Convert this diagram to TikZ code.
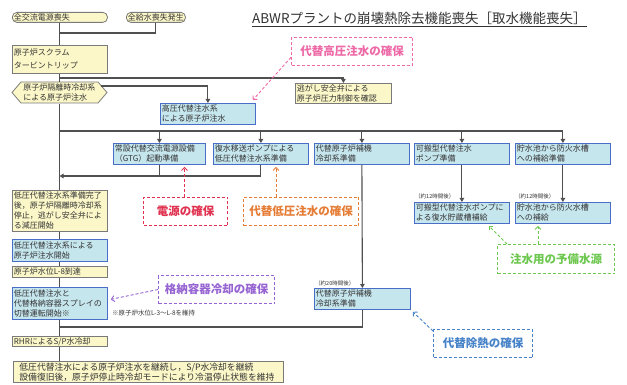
\documentclass[tikz,border=0pt]{standalone}
\usepackage{fontspec}
\setmainfont{Noto Sans CJK JP}
\usetikzlibrary{arrows.meta,calc}
\definecolor{yfill}{HTML}{FBF7C8}
\definecolor{ygray}{HTML}{7A7A7A}
\definecolor{bfill}{HTML}{C6E6EE}
\definecolor{bblue}{HTML}{4A6EC8}
\definecolor{txt}{HTML}{333333}
\definecolor{wirec}{HTML}{505050}
\definecolor{pinkc}{HTML}{EE6AA7}
\definecolor{redc}{HTML}{E03250}
\definecolor{orangec}{HTML}{E67D37}
\definecolor{greenc}{HTML}{6EC850}
\definecolor{purplec}{HTML}{9664D2}
\definecolor{bluec}{HTML}{4682C8}
\tikzset{
  base/.style={anchor=north west, inner xsep=1.5pt, inner ysep=0pt, align=left,
    font=\fontsize{8}{10}\selectfont, text=txt, line width=0.8pt},
  ybox/.style={base, draw=ygray, fill=yfill},
  bbox/.style={base, draw=bblue, fill=bfill},
  wire/.style={draw=wirec, line width=1.1pt},
  arr/.style={wire, -{Triangle[length=4pt,width=4.5pt]}},
  note/.style={draw=#1, text=#1, dash pattern=on 3pt off 2pt, line width=1pt,
    font=\fontsize{11.5}{12}\selectfont\bfseries, anchor=north west, inner sep=0pt, align=center},
  narr/.style={draw=#1, dash pattern=on 3pt off 2pt, line width=0.9pt,
    -{Straight Barb[length=3pt,width=6pt]}},
  small/.style={font=\fontsize{5.5}{6}\selectfont, text=txt, inner sep=0pt, anchor=west}
}
\newcommand\mybox[7]{\node[#2, minimum width=#5pt, minimum height=#6pt, text width=#5pt-3pt] (#1) at (#3,#4) {#7};}
\newcommand\nbox[7]{\node[note=#2, minimum width=#5pt, minimum height=#6pt] (#1) at (#3,#4) {#7};}
\begin{document}
\begin{tikzpicture}[x=1pt,y=-1pt]
\fill[white] (0,0) rectangle (627,385);
\useasboundingbox (0,0) rectangle (627,385);
% title
\node[font=\fontsize{13.5}{14}\selectfont, text=txt, anchor=base west, inner sep=0pt] (title) at (252,24) {ABWRプラントの崩壊熱除去機能喪失［取水機能喪失］};
\draw[txt, line width=0.8pt] ([yshift=-2.5pt]title.base west) -- ([yshift=-2.5pt]title.base east);
% terminals
\mybox{t1}{ybox, rounded corners=4.5pt}{12}{12}{95}{10}{全交流電源喪失}
\mybox{t2}{ybox, rounded corners=4.5pt}{126}{12}{59}{10}{全給水喪失発生}
% main column
\mybox{scram}{ybox, font=\fontsize{8}{13}\selectfont}{12}{45}{95}{28}{原子炉スクラム\\タービントリップ}
\fill[yfill] (12,92.5) -- (21,82) -- (98,82) -- (107,92.5) -- (98,103) -- (21,103) -- cycle;
\draw[ygray, line width=0.8pt] (12,92.5) -- (21,82) -- (98,82) -- (107,92.5) -- (98,103) -- (21,103) -- cycle;
\node[base, minimum width=95pt, minimum height=21pt, text width=73pt] (hex) at (12,82) {原子炉隔離時冷却系\\による原子炉注水};
\mybox{relief}{ybox}{295}{83}{96}{20}{逃がし安全弁による\\原子炉圧力制御を確認}
\mybox{hp}{bbox}{160}{103}{95}{21}{高圧代替注水系\\による原子炉注水}
\mybox{gtg}{bbox}{113}{143}{92}{21}{常設代替交流電源設備\\（GTG）起動準備}
\mybox{cp}{bbox}{213}{143}{95}{21}{復水移送ポンプによる\\低圧代替注水系準備}
\mybox{arc}{bbox}{314}{143}{95}{21}{代替原子炉補機\\冷却系準備}
\mybox{pump}{bbox}{414}{143}{95}{21}{可搬型代替注水\\ポンプ準備}
\mybox{res}{bbox}{515}{143}{95}{21}{貯水池から防火水槽\\への補給準備}
\mybox{lpready}{ybox}{12}{190}{95}{41}{低圧代替注水系準備完了\\後，原子炉隔離時冷却系\\停止，逃がし安全弁によ\\る減圧開始}
\mybox{pump2}{bbox}{414}{202}{95}{21}{可搬型代替注水ポンプに\\よる復水貯蔵槽補給}
\mybox{res2}{bbox}{515}{202}{95}{21}{貯水池から防火水槽\\への補給}
\mybox{lpinj}{bbox}{12}{239}{95}{22}{低圧代替注水系による\\原子炉注水開始}
\mybox{L8}{ybox}{12}{266}{95}{11}{原子炉水位L-8到達}
\mybox{switch}{bbox}{12}{287}{95}{32}{低圧代替注水と\\代替格納容器スプレイの\\切替運転開始※}
\mybox{arc2}{bbox}{314}{288}{96}{21}{代替原子炉補機\\冷却系準備}
\mybox{rhr}{ybox}{12}{336}{95}{10}{RHRによるS/P水冷却}
\node[ybox, inner xsep=6pt, font=\fontsize{8.8}{10}\selectfont, minimum width=270pt, minimum height=21pt, text width=258pt] (final) at (13,361) {低圧代替注水による原子炉注水を継続し，S/P水冷却を継続\\設備復旧後，原子炉停止時冷却モードにより冷温停止状態を維持};
% small labels
\node[small] (l12a) at (415,196) {（約12時間後）};
\node[small] (l12b) at (515,196) {（約12時間後）};
\node[small] (l20) at (315,283) {（約20時間後）};
\node[small, font=\fontsize{6.5}{7}\selectfont] (memo) at (112,313) {※原子炉水位L-3～L-8を維持};
% trunk
\coordinate (j1) at (59.5,33);
\coordinate (j2) at (59.5,78);
\coordinate (j3) at (59.5,131);
\coordinate (j4) at (59.5,176);
\coordinate (j5) at (59.5,327);
\coordinate (hexout) at (101.4,86);
\draw[wire] (t1.south) -- (scram.north);
\draw[wire] (scram.south) -- (hex.north);
\draw[wire] (hex.south) -- (lpready.north);
\draw[wire] (lpready.south) -- (lpinj.north);
\draw[wire] (lpinj.south) -- (L8.north);
\draw[wire] (L8.south) -- (switch.north);
\draw[wire] (switch.south) -- (rhr.north);
\draw[wire] (rhr.south) -- (rhr.south |- final.north);
\draw[wire] (t2.south) |- (j1);
\draw[arr] (j2) -| (relief.north);
\draw[arr] (hexout) -| (hp.north);
\draw[arr] (j3) -| (gtg.north);
\draw[arr] (j3) -| (cp.north);
\draw[arr] (j3) -| (arc.north);
\draw[arr] (j3) -| (pump.north);
\draw[arr] (j3) -| (res.north);
\draw[arr] (cp.south) |- (j4);
\draw[wire] (gtg.south) -- (gtg.south |- j4);
\draw[arr] (arc.south) -- (arc2.north);
\draw[arr] (pump.south) -- (pump2.north);
\draw[arr] (res.south) -- (res2.north);
\draw[wire] (arc2.south) |- (j5);
% notes
\nbox{n1}{pinkc}{291}{37}{121}{28}{代替高圧注水の確保}
\nbox{n2}{redc}{143}{197}{84}{28}{電源の確保}
\nbox{n3}{orangec}{243}{197}{115}{28}{代替低圧注水の確保}
\nbox{n4}{greenc}{497}{244}{117}{29}{注水用の予備水源}
\nbox{n5}{purplec}{158}{275}{116}{28}{格納容器冷却の確保}
\nbox{n6}{bluec}{433}{329}{99}{28}{代替除熱の確保}
\draw[narr=pinkc] ($(n1.south west)!0.3!(n1.north west)$) -- ($(hp.north east)+(-3,-3)$);
\draw[narr=redc] ($(n2.north)+(-1,0)$) -- ($(n2.north |- gtg.south)+(-1,2)$);
\draw[narr=orangec] ($(n3.north west)+(33,0)$) -- ($(n3.north west |- cp.south)+(33,2)$);
\draw[narr=greenc] ($(n4.north west)+(10,0)$) -- ($(pump2.south east)+(-21,2)$);
\draw[narr=greenc] ($(n4.north west)+(41,0)$) -- ($(n4.north west |- res2.south)+(41,2)$);
\draw[narr=purplec] (n5.west) -- ($(switch.east)+(3,-4)$);
\draw[narr=bluec] ($(n6.north west)+(0,2)$) -- ($(arc2.south east)+(2,2)$);
\end{tikzpicture}
\end{document}
